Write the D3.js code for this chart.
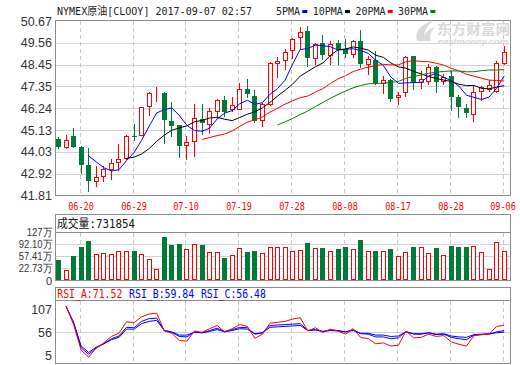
<!DOCTYPE html>
<html><head><meta charset="utf-8">
<script src="https://cdn.jsdelivr.net/npm/d3@7/dist/d3.min.js"></script>
<style>body{margin:0;background:#fff}svg{display:block}</style>
</head><body>
<svg id="c" width="520" height="365"></svg>
<script>
const dates = ["06-15","06-16","06-19","06-20","06-21","06-22","06-23","06-26","06-27","06-28",
"06-29","06-30","07-03","07-04","07-05","07-06","07-07","07-10","07-11","07-12",
"07-13","07-14","07-17","07-18","07-19","07-20","07-21","07-24","07-25","07-26",
"07-27","07-28","07-31","08-01","08-02","08-03","08-04","08-07","08-08","08-09",
"08-10","08-11","08-14","08-15","08-16","08-17","08-18","08-21","08-22","08-23",
"08-24","08-25","08-28","08-29","08-30","08-31","09-01","09-04","09-05","09-06"];
const openP = [44.68,44.26,44.83,44.29,43.38,42.54,42.79,43.14,43.52,43.70,44.85,44.88,46.35,47.06,47.02,45.61,45.37,44.38,44.58,45.69,45.44,46.08,46.65,46.18,46.22,47.21,46.86,45.64,46.45,48.53,48.68,49.19,49.86,50.16,48.78,49.54,48.95,49.56,49.24,48.98,49.66,48.51,48.68,47.53,47.67,46.81,47.09,48.88,47.58,47.63,48.34,47.60,47.89,46.79,46.25,45.95,47.13,47.21,47.13,48.56];
const highP = [44.80,44.88,45.24,44.31,44.21,43.33,43.33,43.67,44.43,44.86,45.44,46.30,47.09,47.31,47.04,46.54,45.40,44.85,46.48,46.48,46.25,46.70,46.86,46.79,47.50,47.72,47.16,46.49,48.61,48.85,49.25,49.83,50.37,50.42,49.57,49.96,49.66,49.69,49.74,49.69,50.20,48.90,49.15,47.89,47.72,47.09,48.88,48.90,48.14,48.48,48.39,47.97,48.14,46.92,46.45,47.38,47.38,47.67,48.65,49.40];
const lowP = [44.21,44.24,44.26,42.94,42.03,42.28,42.54,42.65,43.11,43.68,44.63,44.86,45.89,46.62,44.49,44.85,43.75,43.67,43.82,44.93,44.97,45.78,45.86,46.08,46.18,46.82,45.52,45.35,46.42,47.84,48.22,48.81,49.24,48.36,48.51,48.73,48.48,48.51,48.85,48.85,48.31,47.97,47.46,46.99,46.62,46.45,46.87,47.21,47.29,47.46,47.04,47.46,46.15,45.78,45.81,45.61,46.65,47.13,47.04,48.48];
const closeP = [44.26,44.65,44.29,43.35,42.54,42.77,43.16,43.46,43.67,44.83,44.83,46.28,47.02,47.07,45.62,45.32,44.31,44.53,45.74,45.47,46.08,46.65,46.03,46.38,47.21,46.96,45.61,46.45,48.53,48.66,49.08,49.74,50.10,48.78,49.52,48.93,49.49,49.24,48.98,49.66,48.51,48.73,47.50,47.67,46.70,46.92,48.85,47.58,47.72,48.31,47.58,47.84,46.79,46.32,45.98,47.04,47.30,47.40,48.56,49.10];
// volume in 万
const volume = [46.8,17.8,58.4,84.4,101.8,63.3,66.2,63.3,72,72,72.8,63.3,48.8,19.8,113.4,91.1,93.1,77.8,93.1,90.2,69.1,69.1,52.6,61.3,80.7,70,72.8,67.1,83.6,83.6,83.6,72,74.9,96,80.7,80.7,72,77.8,83.6,77.8,104.7,72,72,72,78.6,57.5,69.1,83.6,83.6,67.1,80.7,60.4,87.3,83.6,83.6,86.4,69.1,19.8,98,73.19];
const rsiA = [null,114,73,17,2,22,33,47,54,79,77,90,96,98,59,54,38,37,59,56,64,71,57,64,73,69,43,52,76,78,80,85,88,59,66,56,63,59,52,64,45,42,31,33,26,28,59,44,45,52,47,49,35,30,26,49,51,52,69,71.52];
const rsiB = [null,113,76,22,8,22,31,42,48,67,66,80,86,87,60,56,47,46,57,55,60,65,58,62,67,66,52,55,71,72,73,74,75,60,62,58,61,60,57,62,53,52,46,46,42,44,58,52,52,55,51,52,45,42,40,50,51,52,57,59.84];
const rsiC = [null,112,78,26,12,24,31,40,45,63,63,75,80,82,60,57,50,50,56,55,58,62,57,60,64,63,53,55,67,68,69,70,71,60,61,58,60,59,57,60,54,54,50,50,47,48,57,53,53,55,52,53,48,46,45,51,52,53,55,56.48];
const priceTicks = [50.67,49.56,48.45,47.35,46.24,45.13,44.03,42.92,41.81];
const volumeTicks = [127,92.10,57.41,22.73];
const volumeTickLabels = ["127万","92.10万","57.41万","22.73万"];
const rsiTicks = [107,56,5];
const dateLabels = ["06-20","06-29","07-10","07-19","07-28","08-08","08-17","08-28","09-06"];
const maPeriods = [5,10,20,30];
const maNames = ["5PMA","10PMA","20PMA","30PMA"];
const maColors = ["#0000ff","#000000","#ff0000","#008000"];
const headerText = "NYMEX原油[CLOOY] 2017-09-07 02:57";
const lastVolume = 731854;

const UP = "#ff0000", DOWN = "#007a37";
const FRAME = "#8c8c8c", GRID = "#d2d2d2", DASH = "#c8c8c8";
const L = 55.5, R = 510.5;
const svg = d3.select("#c");
const monoF = "'DejaVu Sans Mono','Noto Sans CJK SC',monospace";
const sansF = "'Liberation Sans',Arial,sans-serif";

const x = d3.scalePoint().domain(dates).range([58, 503.7]);
const cx = d => Math.round(x(d));
const y = d3.scaleLinear().domain([41.81, 50.67]).range([195.5, 21]);
const yv = d3.scaleLinear().domain([-11.3, 127]).range([280, 232.3]);
const yr = d3.scaleLinear().domain([5, 107]).range([355.7, 309]);

const data = dates.map((d, i) => ({d, i, o: openP[i], h: highP[i], l: lowP[i], c: closeP[i], v: volume[i]}));

const crisp = svg.append("g").attr("shape-rendering", "crispEdges");

// horizontal grid
priceTicks.slice(1, -1).forEach(t => {
  const yy = Math.round(y(t)) + 0.5;
  crisp.append("line").attr("x1", L).attr("x2", R).attr("y1", yy).attr("y2", yy).attr("stroke", GRID);
});
volumeTicks.slice(1).forEach(t => {
  const yy = Math.round(yv(t)) + 0.5;
  crisp.append("line").attr("x1", L).attr("x2", R).attr("y1", yy).attr("y2", yy).attr("stroke", GRID);
});
{
  const yy = Math.round(yr(56)) + 0.5;
  crisp.append("line").attr("x1", L).attr("x2", R).attr("y1", yy).attr("y2", yy).attr("stroke", GRID);
}
// vertical dashed
const panels = [[21, 195], [233, 280], [301, 363]];
dateLabels.forEach(lbl => {
  const xx = cx(lbl) - 0.5;
  panels.forEach(([a, b]) => {
    crisp.append("line").attr("x1", xx).attr("x2", xx).attr("y1", a).attr("y2", b)
      .attr("stroke", DASH).attr("stroke-dasharray", "4,3");
  });
});

// frames
crisp.append("rect").attr("x", L).attr("y", 20.5).attr("width", R - L).attr("height", 175).attr("fill", "none").attr("stroke", FRAME);
crisp.append("rect").attr("x", L).attr("y", 214.5).attr("width", R - L).attr("height", 66).attr("fill", "none").attr("stroke", FRAME);
crisp.append("line").attr("x1", L).attr("x2", R).attr("y1", 232.5).attr("y2", 232.5).attr("stroke", FRAME);
crisp.append("rect").attr("x", L).attr("y", 287.5).attr("width", R - L).attr("height", 76).attr("fill", "none").attr("stroke", FRAME);
crisp.append("line").attr("x1", L).attr("x2", R).attr("y1", 300.5).attr("y2", 300.5).attr("stroke", FRAME);

// watermark
const wm = svg.append("g").attr("fill", "#d9d9d9");
wm.append("path").attr("d", "M417,41 C414,31 421,24 433,21 C426,27 423,33 425,41 Z");
wm.append("path").attr("d", "M424,41 C423,34 428,29 435,27 C431,31 429,36 431,41 Z");
wm.append("text").attr("x", 437).attr("y", 34).attr("font-family", "'Noto Sans CJK SC',sans-serif")
  .attr("font-size", 13.5).attr("font-weight", "bold").attr("textLength", 73).attr("lengthAdjust", "spacingAndGlyphs").text("东方财富网");
wm.append("text").attr("x", 438).attr("y", 44).attr("font-family", sansF).attr("font-style", "italic")
  .attr("font-size", 7.5).attr("font-weight", "bold").attr("textLength", 70).attr("lengthAdjust", "spacingAndGlyphs").text("eastmoney.com");

// clip
svg.append("clipPath").attr("id", "pc").append("rect").attr("x", 56).attr("y", 21).attr("width", 454).attr("height", 174);
const main = svg.append("g").attr("clip-path", "url(#pc)");

// candles
const cg = main.append("g").attr("shape-rendering", "crispEdges");
data.forEach(p => {
  const up = p.c >= p.o;
  const col = up ? UP : DOWN;
  const xc = cx(p.d);
  const yh = Math.round(y(p.h)), yl = Math.round(y(p.l));
  const yt = Math.round(y(Math.max(p.o, p.c))), yb = Math.round(y(Math.min(p.o, p.c)));
  cg.append("line").attr("x1", xc + 0.5).attr("x2", xc + 0.5).attr("y1", yh).attr("y2", yl + 1).attr("stroke", col);
  if (up) {
    cg.append("rect").attr("x", xc - 1.5).attr("y", yt + 0.5).attr("width", 4).attr("height", Math.max(yb - yt, 0))
      .attr("fill", "#fff").attr("stroke", col);
  } else {
    cg.append("rect").attr("x", xc - 2).attr("y", yt).attr("width", 5).attr("height", Math.max(yb - yt, 1)).attr("fill", col);
  }
});

// moving averages of the closes
maPeriods.forEach((n, k) => {
  const ma = closeP.map((c, i) => i < n - 1 ? null : d3.mean(closeP.slice(i - n + 1, i + 1)));
  const line = d3.line().defined(v => v[1] != null).x(v => x(v[0]) + 0.5).y(v => y(v[1]));
  main.append("path").datum(dates.map((d, i) => [d, ma[i]])).attr("d", line)
    .attr("fill", "none").attr("stroke", maColors[k]).attr("stroke-width", 1);
});

// volume bars
const vg = svg.append("g").attr("shape-rendering", "crispEdges");
data.forEach(p => {
  const up = p.c >= p.o;
  const col = up ? UP : DOWN;
  const xc = cx(p.d);
  const yt = Math.round(yv(p.v));
  if (up) {
    vg.append("rect").attr("x", xc - 1.5).attr("y", yt + 0.5).attr("width", 4).attr("height", 279 - yt)
      .attr("fill", "#fff").attr("stroke", col);
  } else {
    vg.append("rect").attr("x", xc - 2).attr("y", yt).attr("width", 5).attr("height", 280 - yt).attr("fill", col);
  }
});

// RSI lines
const rl = d3.line().defined(v => v[1] != null).x(v => x(v[0]) + 0.5).y(v => yr(v[1]));
[[rsiC, "#0000ff"], [rsiB, "#0000ff"], [rsiA, "#ff0000"]].forEach(([arr, col]) => {
  svg.append("path").datum(dates.map((d, i) => [d, arr[i]])).attr("d", rl)
    .attr("fill", "none").attr("stroke", col).attr("stroke-width", 1);
});

// axis labels
const tg = svg.append("g").attr("font-family", sansF).attr("fill", "#333").attr("text-anchor", "end");
priceTicks.forEach(t => {
  tg.append("text").attr("x", 52).attr("y", y(t)).attr("dy", "0.36em").attr("font-size", 12.5).text(t.toFixed(2));
});
volumeTicks.forEach((t, i) => {
  const el = tg.append("text").attr("x", 52).attr("y", yv(t)).attr("dy", "0.36em").attr("font-size", 11).text(volumeTickLabels[i]);
  const w = el.node().getComputedTextLength();
  el.attr("textLength", w * 0.86).attr("lengthAdjust", "spacingAndGlyphs");
});
tg.append("text").attr("x", 52).attr("y", 281).attr("dy", "0.36em").attr("font-size", 11).text("0");
rsiTicks.forEach(t => {
  tg.append("text").attr("x", 52).attr("y", yr(t)).attr("dy", "0.36em").attr("font-size", 12.5).text(String(t));
});

// date labels
const dg = svg.append("g").attr("font-family", monoF).attr("fill", "#ff0000").attr("text-anchor", "middle");
dateLabels.forEach(lbl => {
  dg.append("text").attr("x", Math.min(cx(lbl), 503)).attr("y", 209.5).attr("font-size", 11)
    .attr("textLength", 25.5).attr("lengthAdjust", "spacingAndGlyphs").text(lbl);
});

// header
const hg = svg.append("g").attr("font-family", monoF).attr("font-size", 11).attr("fill", "#222");
hg.append("text").attr("x", 57).attr("y", 14.5).attr("textLength", 195).attr("lengthAdjust", "spacingAndGlyphs").text(headerText);
let lx = 276;
maNames.forEach((nm, k) => {
  const w = nm.length * 6;
  hg.append("text").attr("x", lx).attr("y", 14.5).attr("textLength", w).attr("lengthAdjust", "spacingAndGlyphs").text(nm);
  lx += w + 2.3;
  hg.append("rect").attr("x", lx).attr("y", 10).attr("width", 5).attr("height", 3).attr("fill", maColors[k]);
  lx += 5 + 5.4;
});

// volume legend
svg.append("text").attr("x", 57).attr("y", 228).attr("font-family", monoF).attr("font-size", 12).attr("fill", "#111")
  .attr("textLength", 78).attr("lengthAdjust", "spacingAndGlyphs").text("成交量:" + lastVolume);

// RSI legend
const rsiLeg = [["RSI_A", rsiA, "#ff0000"], ["RSI_B", rsiB, "#0000ff"], ["RSI_C", rsiC, "#0000ff"]];
rsiLeg.forEach(([nm, arr, col], k) => {
  svg.append("text").attr("x", 57.3 + k * 71.8).attr("y", 297.5).attr("font-family", monoF).attr("font-size", 11.5)
    .attr("fill", col).attr("textLength", 65).attr("lengthAdjust", "spacingAndGlyphs")
    .text(nm + ":" + arr[arr.length - 1].toFixed(2));
});
</script>
</body></html>
